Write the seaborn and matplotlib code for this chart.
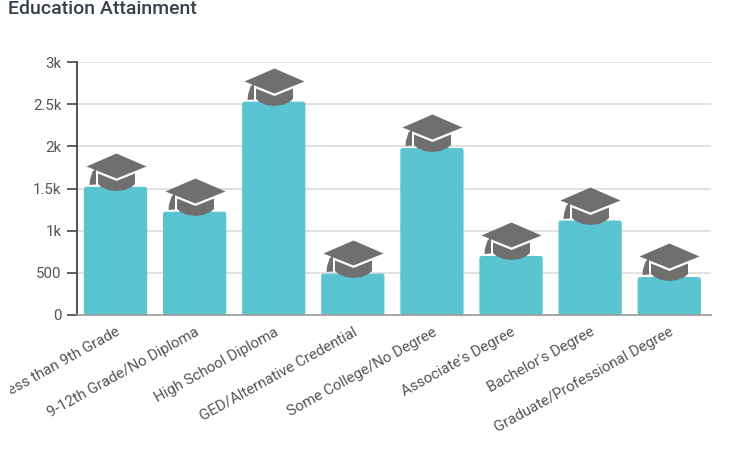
import matplotlib
matplotlib.use("Agg")
import matplotlib.pyplot as plt
import seaborn as sns
from matplotlib.patches import FancyBboxPatch
from matplotlib.path import Path
from matplotlib.transforms import Bbox

categories = ["Less than 9th Grade", "9-12th Grade/No Diploma", "High School Diploma",
              "GED/Alternative Credential", "Some College/No Degree", "Associate's Degree",
              "Bachelor's Degree", "Graduate/Professional Degree"]
values = [1520, 1225, 2530, 490, 1980, 700, 1120, 450]
y_ticks = [0, 500, 1000, 1500, 2000, 2500, 3000]
y_labels = ["0", "500", "1k", "1.5k", "2k", "2.5k", "3k"]

sns.set_theme(style="white")
plt.rcParams["font.family"] = ["Roboto", "DejaVu Sans"]

fig = plt.figure(figsize=(7.5, 4.5), dpi=100)
ax = fig.add_axes([77 / 750, 1 - 315 / 450, 634 / 750, 253 / 450])

# graduation cap marker, origin sits on the top centre of the bar (units are px)
board = [(0, 34), (30, 21), (0, 9), (-30, 21)]
skull = [(-18.5, 14), (0, 6.5), (18.5, 14), (18.5, 3.5), (15, 0.5), (8, -2.5), (0, -3.5),
         (-8, -2.5), (-15, 0.5), (-18.5, 3.5)]
tassel = [(-20.5, 19), (-20.5, 3), (-27, 2.5), (-26.5, 8), (-24, 16)]
verts, codes = [], []
for part in [board, skull, tassel]:
    verts += part + [part[0]]
    codes += [Path.MOVETO] + [Path.LINETO] * (len(part) - 1) + [Path.CLOSEPOLY]
hat_path = Path(verts, codes)

sns.barplot(x=categories, y=values, color="#5bc4d1", saturation=1, width=0.8, ax=ax, zorder=2)

# rounded corners
for bar in list(ax.patches):
    x, w, h = bar.get_x(), bar.get_width(), bar.get_height()
    bar.set_visible(False)
    ax.add_patch(FancyBboxPatch((x, 0), w, h, boxstyle="round,pad=0,rounding_size=0.03",
                                mutation_aspect=950, facecolor="#5bc4d1",
                                edgecolor="none", zorder=2))

size = (2 * 34 * 72 / 100) ** 2
sns.scatterplot(x=categories, y=values, marker=hat_path, s=size, color="#6f6f6f",
                linewidth=0, ax=ax, zorder=3, clip_on=False)

ax.set_xlim(-0.487, 7.528)
ax.set_ylim(0, 3000)
ax.set_yticks(y_ticks)
ax.set_yticklabels(y_labels, fontsize=10.8, color="#555555")
ax.yaxis.grid(True, color="#dcdcdc", linewidth=1.2)
ax.set_axisbelow(True)
ax.tick_params(axis="y", length=7, width=1.2, color="#444444", pad=4, left=True)
ax.tick_params(axis="x", length=0, pad=7)
sns.despine(ax=ax, top=True, right=True)
ax.spines["left"].set_color("#444444")
ax.spines["left"].set_linewidth(1.3)
ax.spines["bottom"].set_color("#999999")
ax.spines["bottom"].set_linewidth(1.2)

ax.set_xticks(range(len(categories)))
ax.set_xticklabels(categories, rotation=29, ha="right", rotation_mode="anchor",
                   fontsize=10.8, color="#555555")
fig.canvas.draw()
# the first label runs off the left of the picture
first = ax.get_xticklabels()[0]
first.set_clip_on(True)
first.set_clip_box(Bbox([[10, 0], [750, 450]]))

fig.text(8 / 750, 1 - 9 / 450, "Education Attainment", fontsize=14, fontweight="medium",
         color="#37414c", va="center", ha="left")

fig.savefig("out.png", dpi=100)
